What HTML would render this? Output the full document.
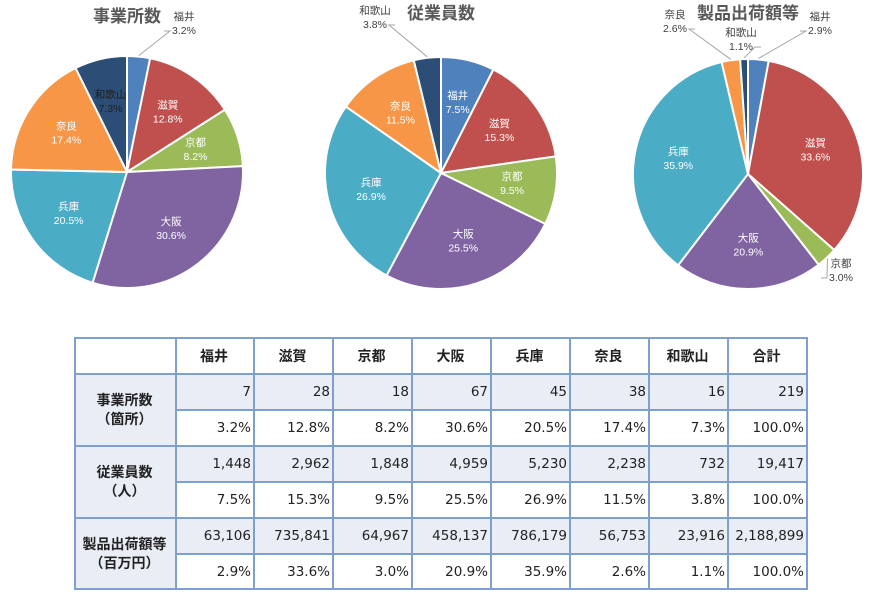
<!DOCTYPE html>
<html><head><meta charset="utf-8">
<style>
body{margin:0;background:#fff;width:879px;height:601px;overflow:hidden;font-family:"Liberation Sans","Noto Sans CJK JP",sans-serif}
svg{position:absolute;left:0;top:0}
table{position:absolute;left:74px;top:337px;border-collapse:collapse;font-family:"DejaVu Sans","Noto Sans CJK JP",sans-serif;font-size:13.5px;color:#222}
td,th{border:2px solid #7f9fcf;height:32px;padding:0 2px 0 0;box-sizing:border-box}
th{font-weight:bold;text-align:center;background:#fff;font-family:"Liberation Sans","Noto Sans CJK JP",sans-serif;font-size:14px}
td{text-align:right}
tr.v td{background:#e9eef6}
td.lab{background:#e9eef6;text-align:center;font-weight:bold;line-height:19px;font-family:"Liberation Sans","Noto Sans CJK JP",sans-serif;font-size:14px}
</style></head><body>
<svg id="c" width="879" height="330"></svg>
<table>
<tr style="height:36px"><th style="width:101px"></th><th style="width:78px">福井</th><th style="width:79px">滋賀</th><th style="width:79px">京都</th><th style="width:79px">大阪</th><th style="width:79px">兵庫</th><th style="width:79px">奈良</th><th style="width:79px">和歌山</th><th style="width:79px">合計</th></tr>
<tr class="v" style="height:36px"><td class="lab" rowspan="2">事業所数<br>（箇所）</td><td>7</td><td>28</td><td>18</td><td>67</td><td>45</td><td>38</td><td>16</td><td>219</td></tr>
<tr style="height:36px"><td>3.2%</td><td>12.8%</td><td>8.2%</td><td>30.6%</td><td>20.5%</td><td>17.4%</td><td>7.3%</td><td>100.0%</td></tr>
<tr class="v" style="height:36px"><td class="lab" rowspan="2">従業員数<br>（人）</td><td>1,448</td><td>2,962</td><td>1,848</td><td>4,959</td><td>5,230</td><td>2,238</td><td>732</td><td>19,417</td></tr>
<tr style="height:36px"><td>7.5%</td><td>15.3%</td><td>9.5%</td><td>25.5%</td><td>26.9%</td><td>11.5%</td><td>3.8%</td><td>100.0%</td></tr>
<tr class="v" style="height:36px"><td class="lab" rowspan="2">製品出荷額等<br>（百万円）</td><td>63,106</td><td>735,841</td><td>64,967</td><td>458,137</td><td>786,179</td><td>56,753</td><td>23,916</td><td>2,188,899</td></tr>
<tr style="height:35px"><td>2.9%</td><td>33.6%</td><td>3.0%</td><td>20.9%</td><td>35.9%</td><td>2.6%</td><td>1.1%</td><td>100.0%</td></tr>
</table>
<script>
const categories=["福井","滋賀","京都","大阪","兵庫","奈良","和歌山"];
const establishments=[7,28,18,67,45,38,16];
const employees=[1448,2962,1848,4959,5230,2238,732];
const shipments=[63106,735841,64967,458137,786179,56753,23916];
const titles=["事業所数","従業員数","製品出荷額等"];
const colors=["#4f81bd","#c0504d","#9bbb59","#8064a2","#4bacc6","#f79646","#2c4d75"];
const NS="http://www.w3.org/2000/svg";
const svg=document.getElementById('c');
function el(t,a,p){const e=document.createElementNS(NS,t);for(const k in a)e.setAttribute(k,a[k]);(p||svg).appendChild(e);return e;}
const outside={"0-0":[184,20],"1-6":[375,14],"2-5":[675,18],"2-6":[741,36],"2-0":[820,20],"2-2":[841,267]};
const pies=[{cx:127,cy:172,r:116,tx:127,ty:22,d:establishments},{cx:441,cy:173,r:116,tx:441,ty:19,d:employees},{cx:748,cy:174,r:115,tx:748,ty:19,d:shipments}];
pies.forEach((p,pi)=>{
  const t=el('text',{x:p.tx,y:p.ty,'text-anchor':'middle','font-size':'17','font-weight':'bold',fill:'#595959'});
  
  
  t.textContent=titles[pi];
  const tot=p.d.reduce((a,b)=>a+b,0);
  let a0=0;
  p.d.forEach((v,i)=>{
    const f=v/tot,a1=a0+f*2*Math.PI;
    const x0=p.cx+p.r*Math.sin(a0),y0=p.cy-p.r*Math.cos(a0),x1=p.cx+p.r*Math.sin(a1),y1=p.cy-p.r*Math.cos(a1);
    const s=el('path',{d:`M${p.cx},${p.cy}L${x0},${y0}A${p.r},${p.r} 0 ${f>0.5?1:0} 1 ${x1},${y1}Z`,fill:colors[i],stroke:'#fff','stroke-width':'2'});
    
    
    const am=(a0+a1)/2;
    const pct=(Math.round(f*1000)/10).toFixed(1)+'%';
    const key=pi+'-'+i;
    let lx,ly,fill='#fff';
    if(outside[key]){[lx,ly]=outside[key];fill='#404040';
      const ex=p.cx+(p.r+1)*Math.sin(am),ey=p.cy-(p.r+1)*Math.cos(am);
      const side=ex<lx?-1:1;
      el('polyline',{points:`${ex},${ey} ${lx+side*14},${ly+11} ${lx+side*20},${ly+11}`,fill:'none',stroke:'#a6a6a6','stroke-width':'1'});
    } else {
      const k=0.62;lx=p.cx+p.r*k*Math.sin(am);ly=p.cy-p.r*k*Math.cos(am)-4;
      if(i===6)fill='#1f1f1f';
    }
    const g=el('text',{x:lx,y:ly,'text-anchor':'middle','font-size':'10.5',fill:fill});
    
    
    el('tspan',{x:lx,dy:0},g).textContent=categories[i];
    el('tspan',{x:lx,dy:14},g).textContent=pct;
    a0=a1;
  });
});
</script>
</body></html>
